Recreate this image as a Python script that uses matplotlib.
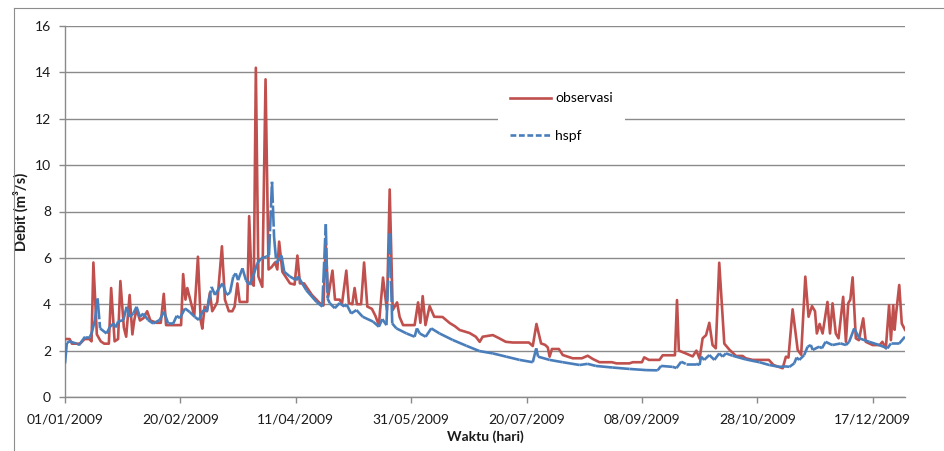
import matplotlib
matplotlib.use("Agg")
import numpy as np
import matplotlib.pyplot as plt
from matplotlib.collections import LineCollection
from matplotlib.lines import Line2D

plt.rcParams['font.family'] = ['Lato', 'DejaVu Sans']

# ---- data (day of year 2009, 0 = 01/01/2009) ----
obs_day = [0, 2, 3, 6.5, 8.5, 10.5, 11.5, 12.3, 13.8, 15.5, 17, 19, 20, 21.5, 23, 24, 25.5, 26.5,
           28, 29.2, 30, 31, 32.5, 34, 35.6, 37, 39.7, 41.5, 42.8, 43.8, 50.3, 51.2, 52.2, 53,
           54.5, 56, 57.6, 58.8, 59.5, 60.5, 61.5, 62.8, 63.8, 65, 66, 68, 69.3, 71, 72.5, 73.5,
           74.7, 75.7, 79, 79.8, 80.9, 81.8, 82.7, 83.8, 85.5, 86.9, 88.2, 89.5, 91, 92, 92.8,
           94.2, 95.5, 97.5, 99.5, 100.7, 101.8, 103.6, 107, 110.4, 112, 113, 114, 115.9, 117,
           119, 120, 121.9, 123, 124.5, 125.5, 126.5, 128.3, 129.6, 131, 133, 134.5, 136, 137.8,
           139.5, 140.7, 142, 143.9, 145, 146.5, 151.5, 153, 154, 155, 156.2, 158, 160, 163.6,
           166.7, 169, 171, 175.3, 178, 179.7, 181, 185.4, 188, 191, 194, 201, 202.7, 204.3,
           206.3, 208, 209.2, 210, 211, 214, 215.7, 220, 224, 226.5, 228.7, 231.6, 237, 239,
           244.6, 246, 250, 251, 253, 257.6, 259, 264.3, 265.2, 266, 269, 272, 273.6, 275,
           276.3, 277.8, 279.2, 280.6, 282, 283.5, 285.7, 288, 290.8, 293.6, 295, 298, 305, 307,
           311, 312.4, 313.5, 315.3, 317.5, 319, 320.8, 322.2, 323.7, 325, 325.8, 327, 328.3,
           330.4, 331.5, 332.6, 334, 335.2, 337.2, 338.4, 339.4, 340.3, 341.3, 342.7, 344, 345.9,
           347, 350, 353, 354.2, 355.7, 357.1, 357.9, 358.9, 359.5, 360, 361.5, 362.6, 364]
obs_val = [2.5, 2.5, 2.3, 2.3, 2.5, 2.5, 2.4, 5.8, 2.7, 2.4, 2.3, 2.3, 4.7, 2.4, 2.5, 5.0, 3.0, 2.6,
           4.4, 2.7, 3.3, 3.8, 3.3, 3.4, 3.7, 3.3, 3.2, 3.2, 4.45, 3.1, 3.1, 5.3, 4.2, 4.7,
           4.1, 3.5, 6.05, 3.3, 2.95, 3.9, 3.7, 4.5, 3.7, 3.9, 4.1, 6.5, 4.2, 3.7, 3.7, 3.9,
           4.9, 4.1, 4.1, 7.8, 4.9, 4.8, 14.2, 5.2, 4.75, 13.7, 5.5, 5.6, 5.8, 5.5, 6.7,
           5.4, 5.2, 4.9, 4.85, 6.1, 4.9, 4.9, 4.4, 4.05, 3.95, 6.6, 4.3, 5.45, 4.2,
           4.2, 4.0, 5.45, 4.05, 4.0, 4.7, 4.0, 4.0, 5.8, 3.9, 3.8, 3.5, 3.1, 5.15,
           3.75, 8.95, 3.75, 4.08, 3.45, 3.1, 3.1, 4.08, 3.2, 4.35, 3.1, 3.92, 3.46, 3.45,
           3.19, 3.05, 2.89, 2.76, 2.6, 2.38, 2.6, 2.67, 2.54, 2.38, 2.35, 2.35, 2.2, 3.15,
           2.31, 2.25, 2.14, 1.74, 2.07, 2.07, 1.81, 1.67, 1.67, 1.78, 1.64, 1.5, 1.5, 1.45,
           1.45, 1.5, 1.5, 1.71, 1.6, 1.6, 1.8, 1.8, 4.18, 2.0, 1.88, 1.75, 2.0, 1.65,
           2.53, 2.67, 3.2, 2.24, 2.1, 5.79, 2.3, 2.03, 1.77, 1.77, 1.67, 1.6, 1.6, 1.38,
           1.24, 1.74, 1.7, 3.78, 2.03, 1.82, 5.19, 3.46, 3.92, 3.7, 2.74, 3.15, 2.74,
           4.1, 2.74, 4.04, 2.74, 2.53, 4.32, 2.38, 4.04, 4.2, 5.16, 2.53, 2.45, 3.39,
           2.38, 2.24, 2.24, 2.38, 2.1, 3.96, 2.45, 3.96, 2.9, 3.46, 4.83, 3.17, 2.9]

sim_day = [0, 0.8, 2, 5, 6.5, 8.7, 10.8, 11.5, 13, 14.1, 15.2, 18, 19.5, 21, 22, 23, 25.3, 26.7,
           28, 29.6, 31, 32.5, 33.9, 36, 38.2, 41, 42.9, 44.7, 46.9, 48.4, 49.8, 52, 54, 56.3,
           58, 59.9, 61.5, 63.5, 65, 66.8, 68.3, 70, 71.5, 72.9, 74, 75, 76.9, 78.4, 79.8, 81.5,
           83.3, 85, 87.3, 88.4, 89.7, 90.6, 91.6, 93.8, 95, 97.4, 100.3, 101, 104.6, 109,
           111.5, 113, 113.8, 114.7, 116.9, 119, 121, 122, 124, 126.3, 129, 133.5, 136, 137.5,
           139.3, 140.7, 141.8, 143.6, 148, 151.5, 152.5, 153.7, 156.3, 158.7, 162.3, 168,
           173.9, 179.6, 185.4, 191.2, 197, 202.7, 204.2, 205, 210, 215.7, 223, 226.5, 230,
           237.4, 244.6, 251.8, 256.8, 258.3, 263.3, 265, 267, 269, 273.5, 275, 275.6, 277,
           279.2, 281.4, 283.5, 285, 286.4, 289.3, 295, 300.9, 305.2, 309.5, 312.4, 313.9,
           316, 317, 318.2, 320.3, 321.8, 323.2, 324, 326.8, 328, 329.6, 332.5, 336.1, 338.4,
           339.8, 342, 344.2, 348.5, 352.8, 356.4, 357.9, 361.5, 364]
sim_val = [1.45, 2.33, 2.4, 2.3, 2.3, 2.6, 2.6, 2.74, 3.32, 4.26, 2.96, 2.74, 3.03, 3.17, 3.0, 3.25,
           3.32, 3.89, 3.45, 3.6, 3.89, 3.45, 3.6, 3.32, 3.17, 3.32, 3.68, 3.17, 3.17, 3.5, 3.4,
           3.82, 3.67, 3.45, 3.32, 3.75, 3.7, 4.75, 4.4, 4.7, 4.9, 4.4, 4.5, 5.19, 5.33, 5.04,
           5.55, 5.04, 4.83, 5.2, 5.76, 5.98, 6.05, 6.12, 9.28, 6.9, 5.76, 6.1, 5.4, 5.2, 5.03,
           5.2, 4.6, 4.1, 3.9, 7.45, 4.25, 4.05, 3.83, 4.05, 3.9, 4.0, 3.6, 3.75, 3.46, 3.25,
           3.03, 3.36, 3.1, 7.05, 3.17, 2.96, 2.74, 2.6, 2.96, 2.74, 2.6, 2.96, 2.74, 2.46,
           2.21, 1.98, 1.88, 1.74, 1.6, 1.5, 2.1, 1.74, 1.6, 1.5, 1.38, 1.43, 1.34, 1.27,
           1.21, 1.16, 1.15, 1.34, 1.3, 1.25, 1.52, 1.43, 1.43, 1.38, 1.74, 1.6, 1.81, 1.6,
           1.88, 1.74, 1.88, 1.78, 1.62, 1.5, 1.38, 1.3, 1.32, 1.3, 1.45, 1.7, 1.6, 1.81,
           2.17, 2.24, 2.03, 2.17, 2.1, 2.38, 2.24, 2.31, 2.24, 2.38, 2.96, 2.53, 2.38, 2.24,
           2.1, 2.31, 2.31, 2.6]

tick_days = [0, 50, 100, 150, 200, 250, 300, 350]
tick_labels = ['01/01/2009', '20/02/2009', '11/04/2009', '31/05/2009',
               '20/07/2009', '08/09/2009', '28/10/2009', '17/12/2009']

RED = '#C0504D'
BLUE = '#4A7EBB'
GRID = '#8A8A8A'

fig = plt.figure(figsize=(9.45, 4.51), dpi=100)
fig.patch.set_facecolor('white')
ax = fig.add_axes([65/945, 54/451, 840/945, 371/451])

# chart area border (only top and left visible in the original crop)
fig.add_artist(Line2D([14/945, 14/945], [0, 1-8/451], transform=fig.transFigure, color='#8C8C8C', lw=0.8))
fig.add_artist(Line2D([14/945, 1], [1-8/451, 1-8/451], transform=fig.transFigure, color='#8C8C8C', lw=0.8))

ax.plot(obs_day, obs_val, color=RED, lw=1.9, solid_joinstyle='round', zorder=3)

# hspf: dashed per segment, like the original renderer
pts = np.column_stack([sim_day, sim_val])
segs = np.stack([pts[:-1], pts[1:]], axis=1)
lc = LineCollection(segs, colors=BLUE, linewidths=1.9, linestyles=[(0, (8, 1.0))], zorder=4)
lc.set_capstyle('butt')
ax.add_collection(lc)

ax.set_xlim(0, 364)
ax.set_ylim(0, 16)
ax.set_yticks(np.arange(0, 17, 2))
ax.set_xticks(tick_days)
ax.set_xticklabels(tick_labels)
ax.grid(axis='y', color=GRID, lw=1.0)
ax.set_axisbelow(True)
for s in ['top', 'right']:
    ax.spines[s].set_visible(False)
for s in ['left', 'bottom']:
    ax.spines[s].set_color(GRID)
    ax.spines[s].set_linewidth(1.0)
ax.tick_params(axis='both', colors=GRID, labelcolor='#1a1a1a', labelsize=10, length=4, width=1.0)
ax.tick_params(axis='y', pad=6)
ax.tick_params(axis='x', pad=8)

ax.set_ylabel('Debit (m³/s)', fontsize=10.5, fontweight='bold', color='#1a1a1a')
ax.yaxis.set_label_coords(-0.043, 0.5)
ax.set_xlabel('Waktu (hari)', fontsize=10, fontweight='bold', color='#1a1a1a', labelpad=3)

handles = [Line2D([], [], color=RED, lw=1.9),
           Line2D([], [], color=BLUE, lw=1.9, linestyle=(0, (2.2, 1.0)))]
leg = ax.legend(handles, ['observasi', 'hspf'], loc='upper left',
                bbox_to_anchor=(498/945, 1-80/451), bbox_transform=fig.transFigure,
                frameon=True, fontsize=10, handlelength=2.9, handletextpad=0.3,
                labelspacing=1.85, borderpad=0.9, borderaxespad=0)
leg.get_frame().set_facecolor('white')
leg.get_frame().set_edgecolor('none')
leg.get_frame().set_alpha(1)

fig.savefig('out.png', dpi=100)
